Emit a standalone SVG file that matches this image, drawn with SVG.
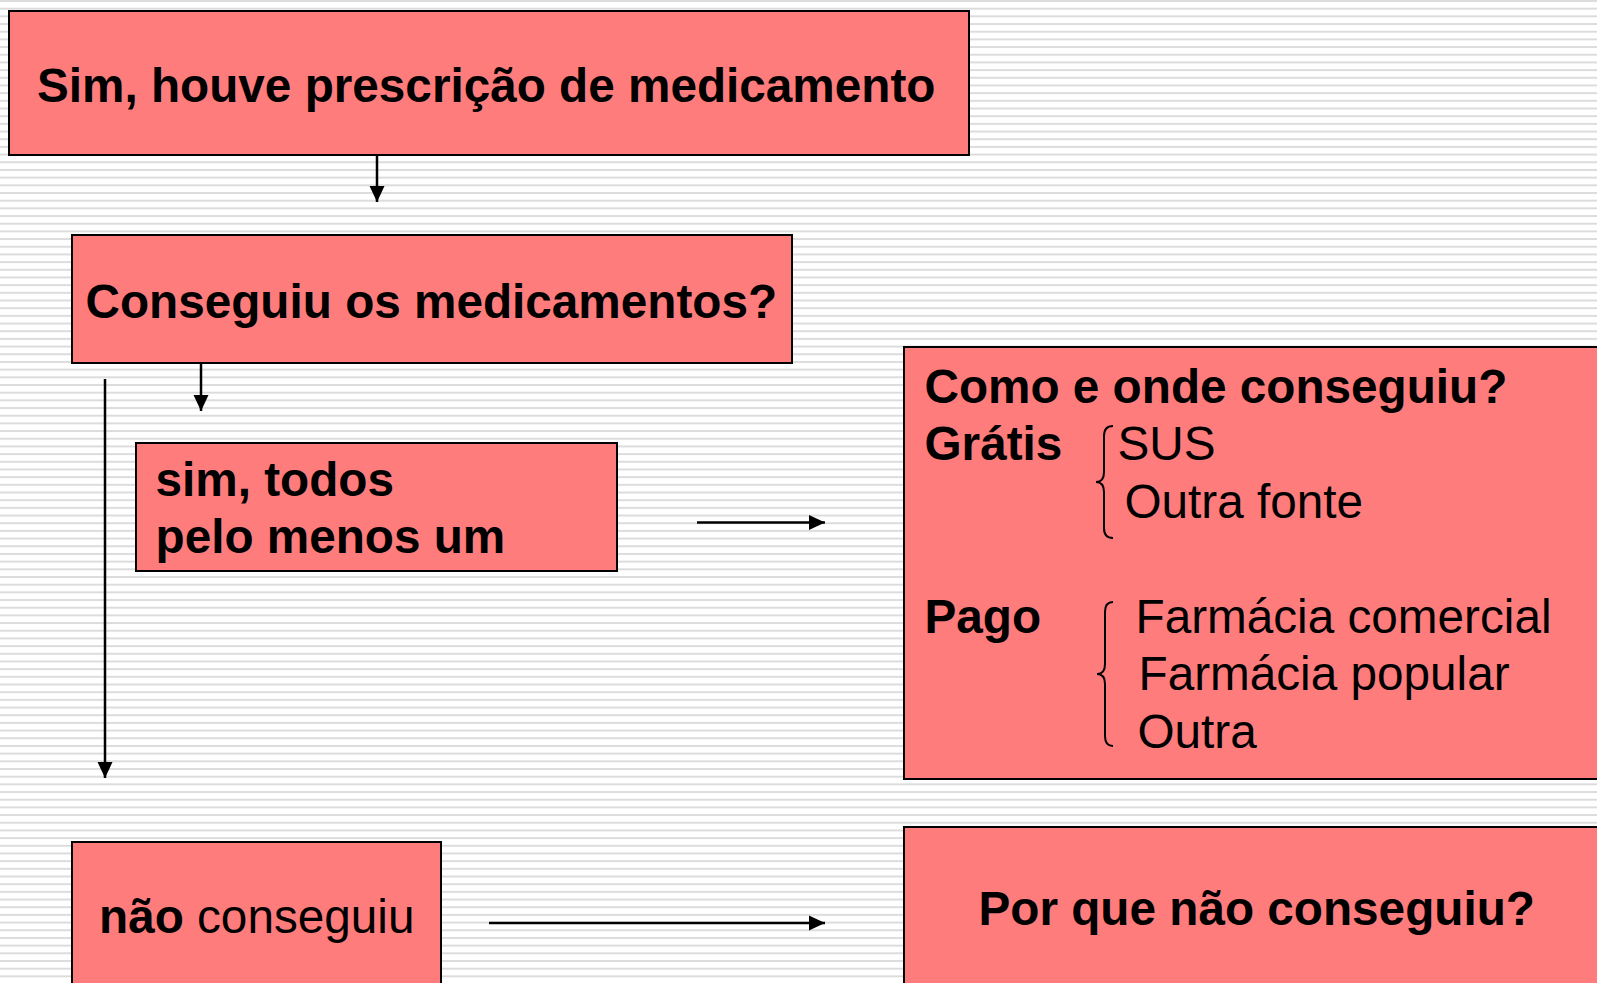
<svg xmlns="http://www.w3.org/2000/svg" width="1597" height="983" viewBox="0 0 1597 983">
<defs>
<pattern id="stripes" x="0" y="0" width="20" height="7.68" patternUnits="userSpaceOnUse">
<rect x="0" y="0" width="20" height="2" fill="#dcdcdc"/>
</pattern>
<marker id="arr" markerUnits="userSpaceOnUse" markerWidth="16" markerHeight="16" viewBox="0 0 16 16" refX="16" refY="8" orient="auto">
<path d="M0,0.5 L16,8 L0,15.5 Z" fill="#000"/>
</marker>
</defs>
<style>
.box{fill:#ff7c7c;stroke:#000;stroke-width:2}
.t{font-family:"Liberation Sans",Arial,sans-serif;font-size:47.7px;fill:#000}
.b{font-weight:bold}
.c{stroke:#000;stroke-width:2.5;fill:none}
.br{stroke:#000;stroke-width:2;fill:none}
</style>
<rect x="0" y="0" width="1597" height="983" fill="#fff"/>
<rect x="0" y="0" width="1597" height="983" fill="url(#stripes)"/>
<g id="connectors">
<line class="c" x1="377" y1="155" x2="377" y2="202" marker-end="url(#arr)"/>
<line class="c" x1="201" y1="363" x2="201" y2="411" marker-end="url(#arr)"/>
<line class="c" x1="105" y1="379" x2="105" y2="778" marker-end="url(#arr)"/>
<line class="c" x1="697" y1="522.5" x2="825" y2="522.5" marker-end="url(#arr)"/>
<line class="c" x1="489" y1="923" x2="825" y2="923" marker-end="url(#arr)"/>
</g>
<g id="n1">
<rect class="box" x="9" y="11" width="960" height="144"/>
<text class="t b" x="37" y="102">Sim, houve prescrição de medicamento</text>
</g>
<g id="n2">
<rect class="box" x="72" y="235" width="720" height="128"/>
<text class="t b" x="85.5" y="318">Conseguiu os medicamentos?</text>
</g>
<g id="n3">
<rect class="box" x="136" y="443" width="481" height="128"/>
<text class="t b" x="155.5" y="496">sim, todos</text>
<text class="t b" x="155.5" y="553">pelo menos um</text>
</g>
<g id="n4">
<rect class="box" x="904" y="347" width="720" height="432"/>
<text class="t b" x="924.5" y="403">Como e onde conseguiu?</text>
<text class="t b" x="924.5" y="460">Grátis</text>
<text class="t" x="1117.5" y="460">SUS</text>
<text class="t" x="1124.5" y="518">Outra fonte</text>
<path class="br" d="M1113,426 Q1104,426 1104,436 L1104,472 Q1104,482 1096,482 Q1104,482 1104,492 L1104,528 Q1104,538 1113,538"/>
<text class="t b" x="924.5" y="633">Pago</text>
<text class="t" x="1135.5" y="633">Farmácia comercial</text>
<text class="t" x="1138.5" y="690">Farmácia popular</text>
<text class="t" x="1137.5" y="748">Outra</text>
<path class="br" d="M1113,602 Q1105,602 1105,612 L1105,664 Q1105,674 1097,674 Q1105,674 1105,684 L1105,736 Q1105,746 1113,746"/>
</g>
<g id="n5">
<rect class="box" x="72" y="842" width="369" height="160"/>
<text class="t" x="99" y="933"><tspan class="b">não</tspan> conseguiu</text>
</g>
<g id="n6">
<rect class="box" x="904" y="827" width="720" height="175"/>
<text class="t b" x="978.5" y="925">Por que não conseguiu?</text>
</g>
</svg>
